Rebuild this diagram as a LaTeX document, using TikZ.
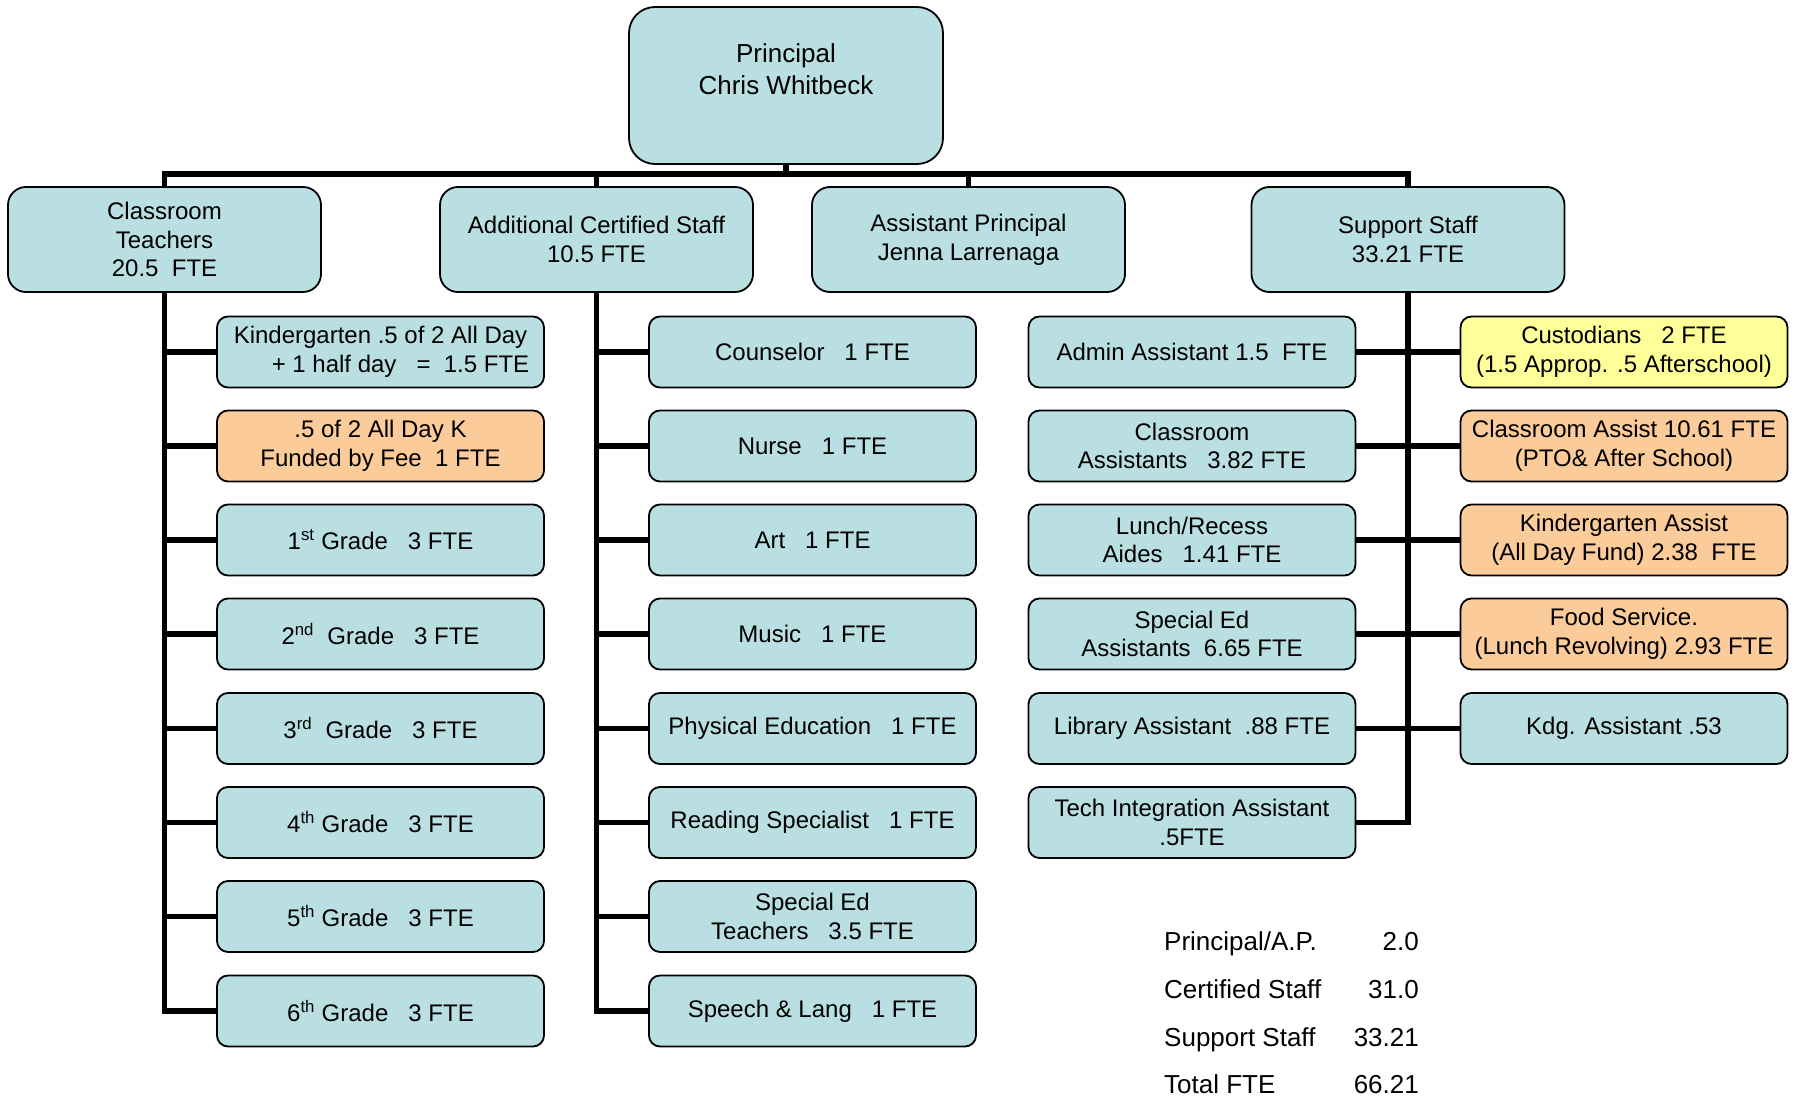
\documentclass[tikz,border=0pt]{standalone}
\usepackage{fontspec}
\setmainfont{Liberation Sans}
\definecolor{boxblue}{RGB}{186,223,227}
\definecolor{boxorange}{RGB}{251,203,153}
\definecolor{boxyellow}{RGB}{255,255,153}
\begin{document}
\begin{tikzpicture}[x=1pt,y=-1pt,
  base/.style={draw=black,line width=1.8pt,fill=boxblue,align=center,inner sep=0pt,
    font=\fontsize{24}{28.6}\selectfont},
  topbox/.style={base,rounded corners=26pt,minimum width=314pt,minimum height=157pt,
    font=\fontsize{26}{32}\selectfont},
  headbox/.style={base,rounded corners=18pt,minimum width=313pt,minimum height=105pt},
  kid/.style={base,rounded corners=11pt,minimum width=327pt,minimum height=71pt},
  fee/.style={fill=boxorange},
  cust/.style={fill=boxyellow},
  link/.style={line width=5.5pt,line cap=rect},
  sumtext/.style={inner sep=0pt,font=\fontsize{26}{30}\selectfont}]
\useasboundingbox (0,0) rectangle (1797,1099);
% top
\node[topbox] (p) at (786,85.5) {Principal\\Chris Whitbeck\\\mbox{}};
\node[headbox] (ct) at (164.5,239.5) {Classroom\\Teachers\\20.5~~FTE};
\node[headbox] (acs) at (596.5,239.5) {Additional Certified Staff\\10.5 FTE};
\node[headbox] (ap) at (968.5,239.5) {Assistant Principal\\Jenna Larrenaga};
\node[headbox] (st) at (1408,239.5) {Support Staff\\33.21 FTE};
\coordinate (bus) at (0,174);
% column 1
\node[kid] (a1) at (380.5,352) {Kindergarten .5 of 2 All Day\\~~~~~~+ 1 half day~~~=~~1.5 FTE};
\node[kid,fee] (a2) at (380.5,446) {.5 of 2 All Day K\\Funded by Fee~~1 FTE};
\node[kid] (a3) at (380.5,540) {1\textsuperscript{st} Grade~~~3 FTE};
\node[kid] (a4) at (380.5,634) {2\textsuperscript{nd}~~Grade~~~3 FTE};
\node[kid] (a5) at (380.5,728.5) {3\textsuperscript{rd}~~Grade~~~3 FTE};
\node[kid] (a6) at (380.5,822.5) {4\textsuperscript{th} Grade~~~3 FTE};
\node[kid] (a7) at (380.5,916.5) {5\textsuperscript{th} Grade~~~3 FTE};
\node[kid] (a8) at (380.5,1011) {6\textsuperscript{th} Grade~~~3 FTE};
% column 2
\node[kid] (b1) at (812.5,352) {Counselor~~~1 FTE};
\node[kid] (b2) at (812.5,446) {Nurse~~~1 FTE};
\node[kid] (b3) at (812.5,540) {Art~~~1 FTE};
\node[kid] (b4) at (812.5,634) {Music~~~1 FTE};
\node[kid] (b5) at (812.5,728.5) {Physical Education~~~1 FTE};
\node[kid] (b6) at (812.5,822.5) {Reading Specialist~~~1 FTE};
\node[kid] (b7) at (812.5,916.5) {Special Ed\\Teachers~~~3.5 FTE};
\node[kid] (b8) at (812.5,1011) {Speech \& Lang~~~1 FTE};
% column 3
\node[kid] (c1) at (1192,352) {Admin Assistant 1.5~~FTE};
\node[kid] (c2) at (1192,446) {Classroom\\Assistants~~~3.82 FTE};
\node[kid] (c3) at (1192,540) {Lunch/Recess\\Aides~~~1.41 FTE};
\node[kid] (c4) at (1192,634) {Special Ed\\Assistants~~6.65 FTE};
\node[kid] (c5) at (1192,728.5) {Library Assistant~~.88 FTE};
\node[kid] (c6) at (1192,822.5) {Tech Integration Assistant\\.5FTE};
% column 4
\node[kid,cust] (d1) at (1624,352) {Custodians~~~2 FTE\\(1.5 Approp. .5 Afterschool)};
\node[kid,fee] (d2) at (1624,446) {Classroom Assist 10.61 FTE\\(PTO\& After School)};
\node[kid,fee] (d3) at (1624,540) {Kindergarten Assist\\(All Day Fund) 2.38~~FTE};
\node[kid,fee] (d4) at (1624,634) {Food Service.\\(Lunch Revolving) 2.93 FTE};
\node[kid] (d5) at (1624,728.5) {Kdg. Assistant .53};
% summary
\node[sumtext,anchor=base west] (s1) at (1164,950) {Principal/A.P.};
\node[sumtext,anchor=base west] (s2) at (1164,998) {Certified Staff};
\node[sumtext,anchor=base west] (s3) at (1164,1046) {Support Staff};
\node[sumtext,anchor=base west] (s4) at (1164,1093) {Total FTE};
\node[sumtext,anchor=base east] (v1) at (1419,950) {2.0};
\node[sumtext,anchor=base east] (v2) at (1419,998) {31.0};
\node[sumtext,anchor=base east] (v3) at (1419,1046) {33.21};
\node[sumtext,anchor=base east] (v4) at (1419,1093) {66.21};
% connectors
\begin{scope}[on background layer/.style={}]
\draw[link,line cap=butt] (ct.north) -- (ct.north |- bus) -- (st.north |- bus) -- (st.north);
\draw[link,line cap=butt] (p.south) -- (p.south |- bus);
\draw[link,line cap=butt] (acs.north) -- (acs.north |- bus);
\draw[link,line cap=butt] (ap.north) -- (ap.north |- bus);
\draw[link,line cap=butt] (ct.south) -- (ct.south |- a8.west) -- (a8.west);
\foreach \n in {a1,a2,a3,a4,a5,a6,a7} \draw[link,line cap=butt] (ct.south |- \n.west) -- (\n.west);
\draw[link,line cap=butt] (acs.south) -- (acs.south |- b8.west) -- (b8.west);
\foreach \n in {b1,b2,b3,b4,b5,b6,b7} \draw[link,line cap=butt] (acs.south |- \n.west) -- (\n.west);
\draw[link,line cap=butt] (st.south) -- (st.south |- c6.east) -- (c6.east);
\foreach \l/\r in {c1/d1,c2/d2,c3/d3,c4/d4,c5/d5} \draw[link,line cap=butt] (\l.east) -- (\r.west);
\end{scope}
\end{tikzpicture}
\end{document}
